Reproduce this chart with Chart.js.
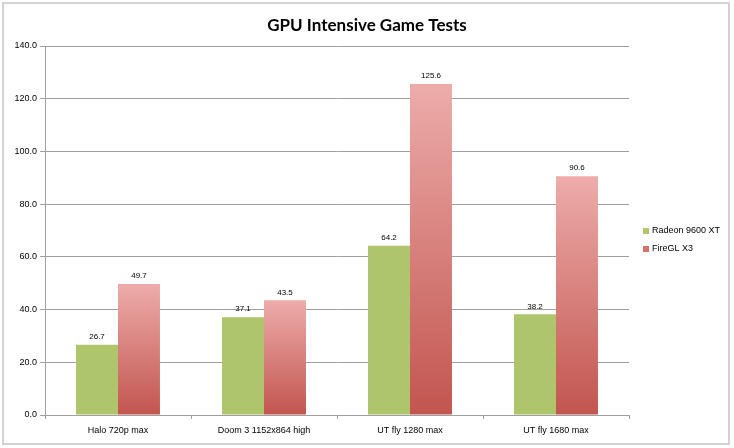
<!DOCTYPE html>
<html>
<head>
<meta charset="utf-8">
<script src="https://cdn.jsdelivr.net/npm/chart.js@4/dist/chart.umd.min.js"></script>
<style>
    html, body { margin: 0; padding: 0; background: #fff; }
    #wrap { position: relative; width: 734px; height: 448px; }
    #frame {
        position: absolute; left: 2px; top: 2px; width: 724px; height: 439px;
        border: 2px solid #d2d2d2; pointer-events: none;
    }
</style>
</head>
<body>
<div id="wrap">
    <canvas id="gpuChart" width="734" height="448"></canvas>
    <div id="frame"></div>
</div>
<script>
var categories = ['Halo 720p max', 'Doom 3 1152x864 high', 'UT fly 1280 max', 'UT fly 1680 max'];
var radeonValues = [26.7, 37.1, 64.2, 38.2];
var fireglValues = [49.7, 43.5, 125.6, 90.6];
var yTicks = [0, 20, 40, 60, 80, 100, 120, 140];

document.addEventListener('DOMContentLoaded', function () {
    var smallFont = '"Liberation Sans", Arial, sans-serif';

    // red bars: light at the top of each bar, dark at the base
    function redGradient(context) {
        var chart = context.chart;
        if (!chart.chartArea || context.type !== 'data') return '#d77a75';
        var y = chart.scales.y;
        var top = y.getPixelForValue(context.raw);
        var bottom = y.getPixelForValue(0);
        if (!isFinite(top) || bottom - top < 1) return '#d77a75';
        var g = chart.ctx.createLinearGradient(0, top, 0, bottom);
        g.addColorStop(0, '#edacaa');
        g.addColorStop(1, '#c2554f');
        return g;
    }

    // value labels above the bars
    var valueLabels = {
        id: 'valueLabels',
        afterDatasetsDraw: function (chart) {
            var ctx = chart.ctx;
            ctx.save();
            ctx.font = '8px ' + smallFont;
            ctx.fillStyle = '#000';
            ctx.textAlign = 'center';
            ctx.textBaseline = 'middle';
            chart.data.datasets.forEach(function (ds, i) {
                chart.getDatasetMeta(i).data.forEach(function (bar, j) {
                    ctx.fillText(ds.data[j].toFixed(1), bar.x, bar.y - 8);
                });
            });
            ctx.restore();
        }
    };

    // legend in the space on the right of the plot
    var sideLegend = {
        id: 'sideLegend',
        afterDraw: function (chart) {
            var ctx = chart.ctx;
            var area = chart.chartArea;
            var x = area.right + 14;
            var y0 = (area.top + area.bottom) / 2 + 0.5;
            ctx.save();
            ctx.font = '9px ' + smallFont;
            ctx.textBaseline = 'middle';
            chart.data.datasets.forEach(function (ds, i) {
                var y = y0 + i * 18;
                ctx.fillStyle = ds.legendColor;
                ctx.fillRect(x, y - 3, 6, 6);
                ctx.fillStyle = '#000';
                ctx.fillText(ds.label, x + 9, y);
            });
            ctx.restore();
        }
    };

    var ctx = document.getElementById('gpuChart').getContext('2d');
    var gpuChart = new Chart(ctx, {
        type: 'bar',
        data: {
            labels: categories,
            datasets: [{
                label: 'Radeon 9600 XT',
                data: radeonValues,
                backgroundColor: '#aec56b',
                legendColor: '#aec56b',
                categoryPercentage: 0.575,
                barPercentage: 1
            }, {
                label: 'FireGL X3',
                data: fireglValues,
                backgroundColor: redGradient,
                legendColor: '#d9706b',
                categoryPercentage: 0.575,
                barPercentage: 1
            }]
        },
        options: {
            responsive: false,
            animation: false,
            events: [],
            layout: { padding: 0 },
            plugins: {
                legend: { display: false },
                tooltip: { enabled: false },
                title: {
                    display: true,
                    text: 'GPU Intensive Game Tests',
                    color: '#000',
                    font: { family: 'Lato, "Open Sans", sans-serif', size: 17, weight: 'bold', lineHeight: 1.2 },
                    padding: { top: 15, bottom: 10.6 }
                }
            },
            scales: {
                x: {
                    grid: { display: true, offset: true, drawOnChartArea: false, tickLength: 4, color: '#a0a0a0' },
                    border: { display: true, color: '#a0a0a0' },
                    ticks: { color: '#000', font: { family: smallFont, size: 9 }, padding: 6, maxRotation: 0, autoSkip: false },
                    afterFit: function (scale) { scale.height = 33; }
                },
                y: {
                    min: 0,
                    max: 140,
                    afterBuildTicks: function (scale) {
                        scale.ticks = yTicks.map(function (v) { return { value: v }; });
                    },
                    grid: { color: '#a0a0a0', tickLength: 5 },
                    border: { display: true, color: '#a0a0a0' },
                    ticks: {
                        color: '#000',
                        font: { family: smallFont, size: 9 },
                        padding: 3,
                        callback: function (v) { return Number(v).toFixed(1); }
                    },
                    afterFit: function (scale) { scale.width = 45; }
                },
                // empty axis that only keeps room for the legend on the right
                side: {
                    position: 'right',
                    display: true,
                    grid: { display: false },
                    border: { display: false },
                    ticks: { display: false },
                    afterFit: function (scale) { scale.width = 105; }
                }
            }
        },
        plugins: [valueLabels, sideLegend]
    });
});
</script>
</body>
</html>
